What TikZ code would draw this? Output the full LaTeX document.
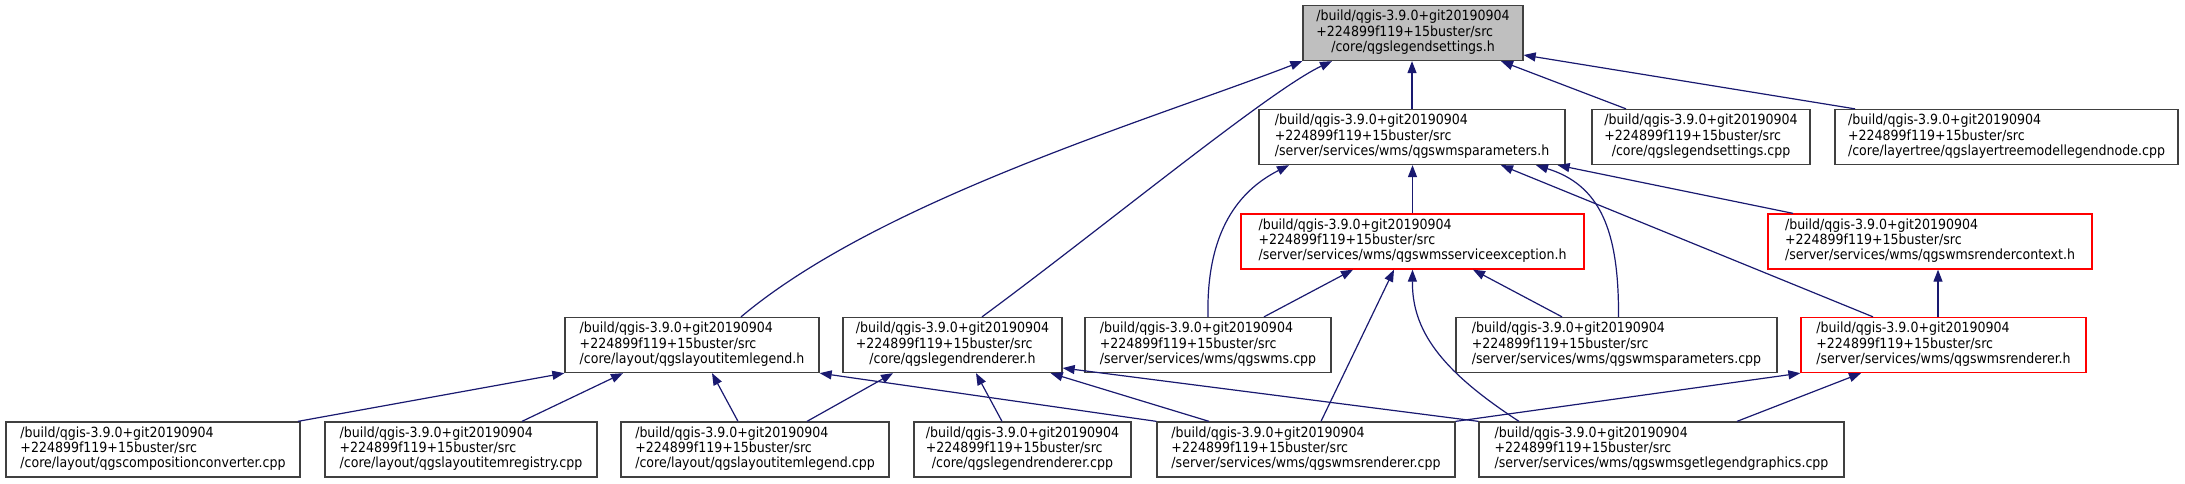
\documentclass[tikz,border=0pt]{standalone}
\usepackage{fontspec}
\usetikzlibrary{arrows.meta}
\newfontfamily\graphfont{DejaVu Sans Condensed}
\definecolor{edgeblue}{RGB}{25,25,112}
\definecolor{boxline}{RGB}{64,64,64}
\definecolor{rootgray}{RGB}{191,191,191}
% three-line file label, last line centred
\newcommand{\srcfile}[1]{\begin{tabular}{@{}l@{}}/build/qgis-3.9.0+git20190904\\+224899f119+15buster/src\\\multicolumn{1}{@{}c@{}}{#1}\end{tabular}}

\begin{document}
\begin{tikzpicture}[
    x=1pt, y=-1pt,
    file/.style={rectangle, draw=boxline, fill=white, line width=1.3pt, minimum height=55pt, inner sep=0pt, font=\graphfont\fontsize{14}{15}\selectfont},
    redfile/.style={file, draw=red},
    arrow/.style={-{Triangle[length=12pt,width=9pt]}, line width=1.2pt, edgeblue}
]
\useasboundingbox (0,0) rectangle (2185,483);

% Root
\node[file, fill=rootgray, minimum width=220pt] (root) at (1413,33) {\srcfile{/core/qgslegendsettings.h}};

% Row 2
\node[file, minimum width=306pt] (wmsph) at (1412,137) {\srcfile{/server/services/wms/qgswmsparameters.h}};
\node[file, minimum width=218pt] (lscpp) at (1701,137) {\srcfile{/core/qgslegendsettings.cpp}};
\node[file, minimum width=343pt] (ltcpp) at (2006.5,137) {\srcfile{/core/layertree/qgslayertreemodellegendnode.cpp}};

% Row 3
\node[redfile, minimum width=343pt] (svch) at (1412.5,241.5) {\srcfile{/server/services/wms/qgswmsserviceexception.h}};
\node[redfile, minimum width=324pt] (rctxh) at (1930,241.5) {\srcfile{/server/services/wms/qgswmsrendercontext.h}};

% Row 4
\node[file, minimum width=254pt] (lilh) at (692,345) {\srcfile{/core/layout/qgslayoutitemlegend.h}};
\node[file, minimum width=219pt] (lrh) at (952.5,345) {\srcfile{/core/qgslegendrenderer.h}};
\node[file, minimum width=246pt] (wmscpp) at (1208,345) {\srcfile{/server/services/wms/qgswms.cpp}};
\node[file, minimum width=321pt] (wmspcpp) at (1616.5,345) {\srcfile{/server/services/wms/qgswmsparameters.cpp}};
\node[redfile, minimum width=285pt] (wmsrh) at (1943.5,345) {\srcfile{/server/services/wms/qgswmsrenderer.h}};

% Row 5
\node[file, minimum width=294pt] (convcpp) at (153,449.5) {\srcfile{/core/layout/qgscompositionconverter.cpp}};
\node[file, minimum width=272pt] (regcpp) at (461,449.5) {\srcfile{/core/layout/qgslayoutitemregistry.cpp}};
\node[file, minimum width=268pt] (lilcpp) at (755,449.5) {\srcfile{/core/layout/qgslayoutitemlegend.cpp}};
\node[file, minimum width=217pt] (lrcpp) at (1022.5,449.5) {\srcfile{/core/qgslegendrenderer.cpp}};
\node[file, minimum width=298pt] (wmsrcpp) at (1306,449.5) {\srcfile{/server/services/wms/qgswmsrenderer.cpp}};
\node[file, minimum width=365pt] (glgcpp) at (1661.5,449.5) {\srcfile{/server/services/wms/qgswmsgetlegendgraphics.cpp}};

% Arrows to root
\draw[arrow] ([xshift=49pt]lilh.north) .. controls (880,200) and (1150,120) .. (root.south west);
\draw[arrow] ([xshift=29.5pt]lrh.north) .. controls (1100,230) and (1270,90) .. ([xshift=-81pt]root.south);
\draw[arrow] (wmsph.north) -- (wmsph.north |- root.south);
\draw[arrow] ([xshift=-75pt]lscpp.north) -- ([xshift=88pt]root.south);
\draw[arrow] ([xshift=-151.5pt]ltcpp.north) -- ([yshift=-22pt]root.east);

% Arrows to qgswmsparameters.h
\draw[arrow] (wmscpp.north) .. controls (1206,230) and (1240,190) .. ([xshift=-123pt]wmsph.south);
\draw[arrow] (svch.north) -- (svch.north |- wmsph.south);
\draw[arrow] ([xshift=2pt]wmspcpp.north) .. controls (1619,230) and (1600,185) .. ([xshift=124pt]wmsph.south);
\draw[arrow] ([xshift=-70.5pt]wmsrh.north) -- ([xshift=89pt]wmsph.south);
\draw[arrow] ([xshift=-137pt]rctxh.north) -- ([xshift=-8pt]wmsph.south east);

% Arrows to qgswmsserviceexception.h
\draw[arrow] ([xshift=56pt]wmscpp.north) -- ([xshift=-59.5pt]svch.south);
\draw[arrow] ([xshift=15pt]wmsrcpp.north) -- ([xshift=-18.5pt]svch.south);
\draw[arrow] ([xshift=-142.5pt]glgcpp.north) .. controls (1440,370) and (1412,330) .. (svch.south);
\draw[arrow] ([xshift=-54.5pt]wmspcpp.north) -- ([xshift=60.5pt]svch.south);

% Arrows to render context / renderer
\draw[arrow] ([xshift=-5.5pt]wmsrh.north) -- ([xshift=8pt]rctxh.south);
\draw[arrow] (wmsrcpp.north east) -- (wmsrh.south west);
\draw[arrow] ([xshift=75.5pt]glgcpp.north) -- ([xshift=-82.5pt]wmsrh.south);

% Arrows to qgslayoutitemlegend.h
\draw[arrow] ([xshift=145pt]convcpp.north) -- (lilh.south west);
\draw[arrow] ([xshift=61pt]regcpp.north) -- ([xshift=-69pt]lilh.south);
\draw[arrow] ([xshift=-17pt]lilcpp.north) -- ([xshift=20pt]lilh.south);
\draw[arrow] (wmsrcpp.north west) -- (lilh.south east);

% Arrows to qgslegendrenderer.h
\draw[arrow] ([xshift=52pt]lilcpp.north) -- ([xshift=-59.5pt]lrh.south);
\draw[arrow] ([xshift=-20.5pt]lrcpp.north) -- ([xshift=23.5pt]lrh.south);
\draw[arrow] ([xshift=-97pt]wmsrcpp.north) -- ([xshift=-12pt]lrh.south east);
\draw[arrow] (glgcpp.north west) -- ([yshift=-23pt]lrh.east);

\end{tikzpicture}
\end{document}
